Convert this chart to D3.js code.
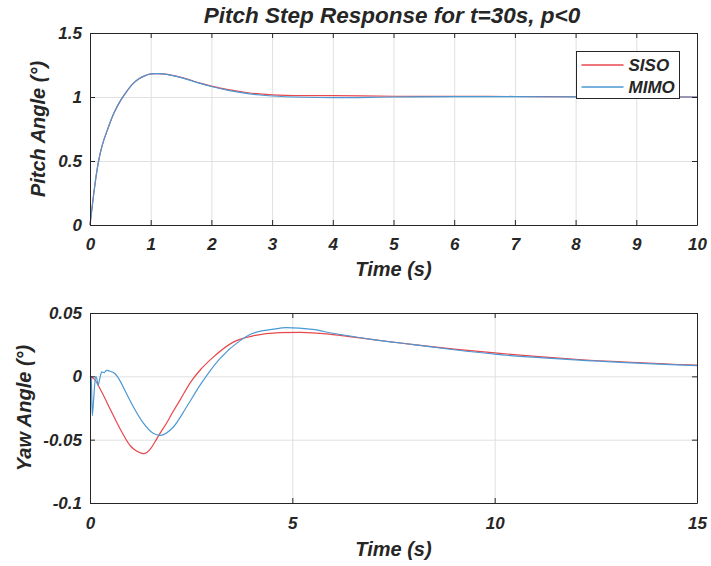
<!DOCTYPE html>
<html>
<head>
<meta charset="utf-8">
<script src="https://cdn.jsdelivr.net/npm/d3@7"></script>
<style>
  body { margin: 0; background: #fff; }
  svg text { font-family: "Liberation Sans", Arial, Helvetica, sans-serif; font-weight: bold; font-style: italic; fill: #262626; }
</style>
</head>
<body>
<div id="chart"></div>
<script>
// ---- data ----
var pitchTime = [0, 0.05, 0.1, 0.15, 0.2, 0.3, 0.4, 0.5, 0.6, 0.7, 0.8, 0.9, 1.0, 1.1, 1.2, 1.4, 1.6, 1.8, 2.0, 2.3, 2.6, 3.0, 3.5, 4.0, 5.0, 6.0, 7.0, 8.0, 9.0, 10.0];
var pitchSISO = [0, 0.2, 0.38, 0.52, 0.62, 0.76, 0.88, 0.97, 1.04, 1.1, 1.14, 1.165, 1.18, 1.183, 1.18, 1.165, 1.14, 1.11, 1.085, 1.055, 1.033, 1.017, 1.011, 1.01, 1.006, 1.005, 1.004, 1.002, 1.001, 1.0];
var pitchMIMO = [0, 0.2, 0.38, 0.52, 0.62, 0.76, 0.88, 0.97, 1.04, 1.1, 1.14, 1.165, 1.18, 1.183, 1.18, 1.163, 1.138, 1.108, 1.082, 1.05, 1.027, 1.008, 0.998, 0.995, 1.0, 1.003, 1.003, 1.001, 1.0, 1.0];

var yawTimeSISO = [0, 0.1, 0.3, 0.5, 0.77, 1.0, 1.15, 1.32, 1.5, 1.6, 1.73, 1.89, 2.05, 2.22, 2.5, 2.75, 3.04, 3.54, 4.03, 4.69, 5.2, 6.0, 7.0, 8.0, 9.0, 10.0, 12.0, 15.0];
var yawSISO = [0, -0.002, -0.013, -0.026, -0.043, -0.055, -0.059, -0.061, -0.057, -0.052, -0.045, -0.037, -0.028, -0.019, -0.004, 0.006, 0.015, 0.027, 0.032, 0.0345, 0.0347, 0.033, 0.029, 0.025, 0.0215, 0.0185, 0.0135, 0.0088];
var yawTimeMIMO = [0, 0.03, 0.057, 0.09, 0.14, 0.17, 0.2, 0.24, 0.29, 0.35, 0.41, 0.5, 0.62, 0.75, 0.86, 1.07, 1.32, 1.56, 1.73, 2.06, 2.39, 2.72, 3.21, 3.7, 4.03, 4.5, 4.85, 5.5, 6.0, 7.0, 8.0, 9.0, 10.0, 12.0, 15.0];
var yawMIMO = [0, -0.001, -0.031, -0.018, 0, -0.002, -0.007, -0.002, 0.0035, 0.003, 0.0047, 0.004, 0.002, -0.004, -0.011, -0.024, -0.037, -0.045, -0.0466, -0.04, -0.024, -0.007, 0.014, 0.028, 0.034, 0.037, 0.0385, 0.037, 0.034, 0.029, 0.025, 0.021, 0.0175, 0.013, 0.0085];

var seriesNames = ["SISO", "MIMO"];
var seriesColors = ["#e8474c", "#4a98d4"];

var pitchXTicks = [0, 1, 2, 3, 4, 5, 6, 7, 8, 9, 10];
var pitchYTicks = [0, 0.5, 1, 1.5];
var pitchYLabels = ["0", "0.5", "1", "1.5"];
var yawXTicks = [0, 5, 10, 15];
var yawYTicks = [-0.1, -0.05, 0, 0.05];
var yawYLabels = ["-0.1", "-0.05", "0", "0.05"];

var width = 711, height = 566;
var svg = d3.select("#chart").append("svg")
    .attr("width", width)
    .attr("height", height);

// draws one matlab style axes box with grid, inward ticks and two lines
function drawPanel(opt) {
  var x = d3.scaleLinear().domain(opt.xDomain).range([opt.left, opt.right]);
  var y = d3.scaleLinear().domain(opt.yDomain).range([opt.bottom, opt.top]);
  var g = svg.append("g");
  var w = opt.right - opt.left, h = opt.bottom - opt.top;

  // grid
  g.append("g")
      .attr("transform", "translate(0," + opt.bottom + ")")
      .call(d3.axisBottom(x).tickValues(opt.xTicks).tickSize(-h).tickFormat(""))
      .call(function(s) { s.select(".domain").remove(); })
      .selectAll("line").attr("stroke", "#e0e0e0");
  g.append("g")
      .attr("transform", "translate(" + opt.left + ",0)")
      .call(d3.axisLeft(y).tickValues(opt.yTicks).tickSize(-w).tickFormat(""))
      .call(function(s) { s.select(".domain").remove(); })
      .selectAll("line").attr("stroke", "#e0e0e0");

  // lines
  opt.series.forEach(function(s, i) {
    var pts = s.t.map(function(t, k) { return [t, s.v[k]]; });
    g.append("path")
        .datum(pts)
        .attr("fill", "none")
        .attr("stroke", seriesColors[i])
        .attr("stroke-width", 1.2)
        .attr("d", d3.line()
            .x(function(d) { return x(d[0]); })
            .y(function(d) { return y(d[1]); })
            .curve(d3.curveMonotoneX));
  });

  // axes with inward ticks on all sides
  var bottomAx = g.append("g")
      .attr("transform", "translate(0," + opt.bottom + ")")
      .call(d3.axisBottom(x).tickValues(opt.xTicks).tickSizeInner(-5).tickSizeOuter(0)
        .tickPadding(opt.xPad).tickFormat(d3.format("d")));
  var leftAx = g.append("g")
      .attr("transform", "translate(" + opt.left + ",0)")
      .call(d3.axisLeft(y).tickValues(opt.yTicks).tickSizeInner(-5).tickSizeOuter(0)
        .tickPadding(8).tickFormat(function(d, i) { return opt.yLabels[i]; }));
  var topAx = g.append("g")
      .attr("transform", "translate(0," + opt.top + ")")
      .call(d3.axisTop(x).tickValues(opt.xTicks).tickSizeInner(-5).tickSizeOuter(0).tickFormat(""));
  var rightAx = g.append("g")
      .attr("transform", "translate(" + opt.right + ",0)")
      .call(d3.axisRight(y).tickValues(opt.yTicks).tickSizeInner(-5).tickSizeOuter(0).tickFormat(""));
  [bottomAx, leftAx, topAx, rightAx].forEach(function(a) {
    a.select(".domain").attr("stroke", "#262626");
    a.selectAll(".tick line").attr("stroke", "#262626");
    a.selectAll("text").attr("font-size", 17).attr("font-family", null).attr("fill", "#262626");
  });

  // x label
  g.append("text")
      .attr("x", (opt.left + opt.right) / 2)
      .attr("y", opt.xLabelY)
      .attr("text-anchor", "middle")
      .attr("font-size", 20)
      .text("Time (s)");
  // y label
  g.append("text")
      .attr("transform", "translate(" + opt.yLabelX + "," + ((opt.top + opt.bottom) / 2) + ") rotate(-90)")
      .attr("text-anchor", "middle")
      .attr("font-size", 20)
      .text(opt.yLabel);
}

drawPanel({
  left: 90, right: 697, top: 33, bottom: 225,
  xDomain: [0, 10], yDomain: [0, 1.5],
  xTicks: pitchXTicks, yTicks: pitchYTicks, yLabels: pitchYLabels,
  xPad: 13, xLabelY: 276, yLabelX: 45, yLabel: "Pitch Angle (°)",
  series: [{ t: pitchTime, v: pitchSISO }, { t: pitchTime, v: pitchMIMO }]
});

drawPanel({
  left: 90, right: 697, top: 313, bottom: 503,
  xDomain: [0, 15], yDomain: [-0.1, 0.05],
  xTicks: yawXTicks, yTicks: yawYTicks, yLabels: yawYLabels,
  xPad: 14, xLabelY: 556, yLabelX: 31, yLabel: "Yaw Angle (°)",
  series: [{ t: yawTimeSISO, v: yawSISO }, { t: yawTimeMIMO, v: yawMIMO }]
});

// title
svg.append("text")
    .attr("x", 392)
    .attr("y", 23)
    .attr("text-anchor", "middle")
    .attr("font-size", 22.5)
    .text("Pitch Step Response for t=30s, p<0");

// legend
var legend = svg.append("g").attr("transform", "translate(576.5,51.5)");
legend.append("rect")
    .attr("width", 103).attr("height", 47)
    .attr("fill", "#fff").attr("stroke", "#262626");
seriesNames.forEach(function(name, i) {
  var ly = 13.5 + i * 22;
  legend.append("line")
      .attr("x1", 5).attr("x2", 47)
      .attr("y1", ly).attr("y2", ly)
      .attr("stroke", seriesColors[i]).attr("stroke-width", 1.5);
  legend.append("text")
      .attr("x", 52).attr("y", ly)
      .attr("dy", "0.36em")
      .attr("font-size", 17)
      .text(name);
});
</script>
</body>
</html>
